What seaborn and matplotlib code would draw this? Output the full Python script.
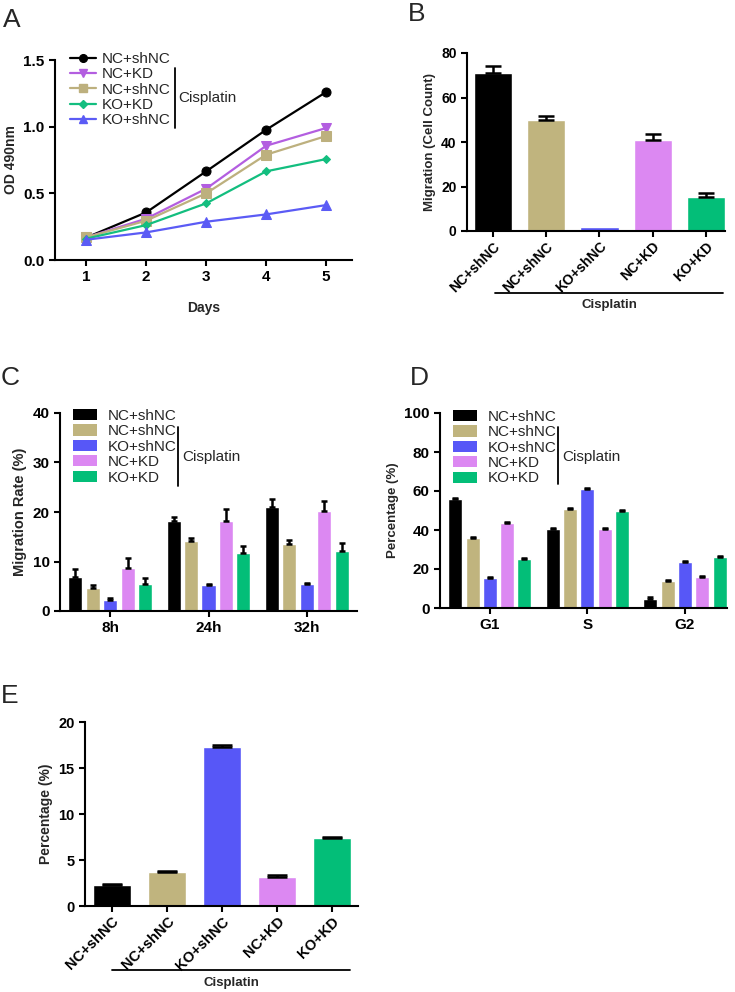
import numpy as np
import pandas as pd
import matplotlib
matplotlib.use("Agg")
import matplotlib.pyplot as plt
import seaborn as sns
from matplotlib.patches import Patch
from matplotlib.lines import Line2D

# ---- data ----
groups = ["NC+shNC", "NC+shNC", "KO+shNC", "NC+KD", "KO+KD"]
group_keys = ["ctrl", "cis_nc", "cis_ko", "cis_kd", "cis_kokd"]
bar_colors = ["#000000", "#C0B47E", "#5757F7", "#DC88F2", "#03BE78"]

# A: OD 490nm growth curves
days = [1, 2, 3, 4, 5]
a_labels = ["NC+shNC", "NC+KD", "NC+shNC", "KO+KD", "KO+shNC"]
a_nc_shnc = [0.168, 0.357, 0.665, 0.977, 1.26]
a_nc_kd = [0.17, 0.31, 0.535, 0.857, 0.99]
a_cis_nc_shnc = [0.17, 0.295, 0.50, 0.79, 0.93]
a_ko_kd = [0.16, 0.262, 0.425, 0.665, 0.757]
a_ko_shnc = [0.152, 0.207, 0.287, 0.342, 0.412]
a_colors = ["#000000", "#B35EE0", "#BDB07E", "#13BE7F", "#5B5BF5"]
a_markers = ["o", "v", "s", "D", "^"]

# B: migration cell count
b_mean = [71.2, 49.7, 2.0, 40.7, 15.5]
b_err = [2.9, 1.8, 0.0, 2.8, 1.4]

# C: migration rate
c_times = ["8h", "24h", "32h"]
c_mean = {
    "ctrl": [6.9, 18.2, 21.1],
    "cis_nc": [4.6, 14.2, 13.6],
    "cis_ko": [2.3, 5.2, 5.5],
    "cis_kd": [8.6, 18.2, 20.2],
    "cis_kokd": [5.4, 11.8, 12.2],
}
c_err = {
    "ctrl": [1.5, 0.8, 1.5],
    "cis_nc": [0.6, 0.5, 0.8],
    "cis_ko": [0.4, 0.2, 0.2],
    "cis_kd": [2.2, 2.4, 2.1],
    "cis_kokd": [1.3, 1.3, 1.6],
}

# D: cell cycle
d_phases = ["G1", "S", "G2"]
d_mean = {
    "ctrl": [55.7, 40.3, 4.8],
    "cis_nc": [35.7, 50.8, 13.9],
    "cis_ko": [15.4, 60.9, 23.7],
    "cis_kd": [43.4, 40.5, 15.8],
    "cis_kokd": [24.9, 49.7, 25.9],
}
d_err = {k: [0.6, 0.6, 0.6] for k in group_keys}

# E: percentage
e_mean = [2.3, 3.7, 17.3, 3.15, 7.4]
e_err = [0.08, 0.08, 0.25, 0.2, 0.1]

# ---- style ----
sns.set_style("ticks")
plt.rcParams["font.family"] = ["Liberation Sans", "DejaVu Sans"]
plt.rcParams["axes.linewidth"] = 1.5
plt.rcParams["xtick.major.width"] = 1.5
plt.rcParams["ytick.major.width"] = 1.5
plt.rcParams["xtick.major.size"] = 4
plt.rcParams["ytick.major.size"] = 4
plt.rcParams["xtick.color"] = "black"
plt.rcParams["ytick.color"] = "black"
plt.rcParams["axes.edgecolor"] = "black"

W, H = 735, 992
fig = plt.figure(figsize=(W / 100, H / 100), dpi=100)


def px_axes(left, top, right, bottom):
    return fig.add_axes([left / W, 1 - bottom / H, (right - left) / W, (bottom - top) / H])


def style_ax(ax, size=11):
    sns.despine(ax=ax)
    ax.tick_params(labelsize=size)
    for lab in ax.get_xticklabels() + ax.get_yticklabels():
        lab.set_fontweight("bold")


def fig_text(x, y, s, **kw):
    fig.text(x / W, 1 - y / H, s, **kw)


def fig_line(x0, y0, x1, y1, lw=1.3):
    fig.add_artist(Line2D([x0 / W, x1 / W], [1 - y0 / H, 1 - y1 / H], color="black", lw=lw))


def add_errs(ax, errs_by_container, capsize):
    for cont, errs in zip(ax.containers, errs_by_container):
        for bar, e in zip(cont, errs):
            if e <= 0:
                continue
            xc = bar.get_x() + bar.get_width() / 2
            h = bar.get_height()
            ax.errorbar(xc, h, yerr=[[0], [e]], color="black", capsize=capsize,
                        capthick=1.8, elinewidth=1.8, fmt="none", zorder=3)


# ---- A ----
axA = px_axes(55, 60, 352, 260)
a_series = [a_nc_shnc, a_nc_kd, a_cis_nc_shnc, a_ko_kd, a_ko_shnc]
ms = [6.5, 6.5, 6.5, 4.5, 6.5]
for vals, col, mk, m in zip(a_series, a_colors, a_markers, ms):
    sns.lineplot(x=days, y=vals, color=col, marker=mk, markersize=m, markeredgecolor=col,
                 linewidth=1.6, ax=axA)
axA.set_xlim(0.48, 5.43)
axA.set_ylim(0, 1.5)
axA.set_xticks(days)
axA.set_yticks([0.0, 0.5, 1.0, 1.5])
axA.set_yticklabels(["0.0", "0.5", "1.0", "1.5"])
axA.set_xlabel("Days", fontsize=10, fontweight="bold", labelpad=12)
axA.set_ylabel("OD 490nm", fontsize=10, fontweight="bold")
style_ax(axA)
a_handles = [Line2D([0], [0], color=c, marker=m, markersize=s * 0.85, lw=1.6)
             for c, m, s in zip(a_colors, a_markers, ms)]
axA.legend(a_handles, a_labels, loc="upper left", bbox_to_anchor=(70 / W, 1 - 52 / H),
           bbox_transform=fig.transFigure, frameon=False, fontsize=11,
           handlelength=1.7, handletextpad=0.35, labelspacing=0.09, borderpad=0, borderaxespad=0)
fig_line(175, 68, 175, 128)
fig_text(178, 98, "Cisplatin", fontsize=11, va="center")
fig_text(3, 27, "A", fontsize=19)

# ---- B ----
axB = px_axes(467, 53, 725, 231)
dfB = pd.DataFrame({"group": group_keys, "val": b_mean})
sns.barplot(data=dfB, x="group", y="val", hue="group", palette=bar_colors,
            width=0.72, saturation=1, legend=False, ax=axB)
add_errs(axB, [[e] for e in b_err], capsize=6)
axB.set_xlim(-0.49, 4.36)
axB.set_ylim(0, 80)
axB.set_yticks([0, 20, 40, 60, 80])
axB.set_xticks(range(5))
axB.set_xticklabels(groups, rotation=45, ha="right", rotation_mode="anchor")
axB.set_xlabel("")
axB.set_ylabel("Migration (Cell Count)", fontsize=9.5, fontweight="bold")
style_ax(axB, 10)
axB.tick_params(axis="x", pad=2)
fig_line(495, 293, 723, 293)
fig_text(609, 305, "Cisplatin", fontsize=9.5, fontweight="bold", ha="center", va="center")
fig_text(408, 21, "B", fontsize=19)


def grouped(ax, cats, means, errs, capsize):
    rows = []
    for k in group_keys:
        for c, v in zip(cats, means[k]):
            rows.append({"cat": c, "group": k, "val": v})
    df = pd.DataFrame(rows)
    sns.barplot(data=df, x="cat", y="val", hue="group", hue_order=group_keys,
                palette=bar_colors, width=0.885, gap=0.19, saturation=1,
                legend=False, ax=ax)
    add_errs(ax, [errs[k] for k in group_keys], capsize)


def bar_legend(ax, x, y, brx, bry0, bry1, cis_y):
    handles = [Patch(facecolor=c, edgecolor="none") for c in bar_colors]
    ax.legend(handles, groups, loc="upper left", bbox_to_anchor=(x / W, 1 - y / H),
              bbox_transform=fig.transFigure, frameon=False, fontsize=11,
              handlelength=1.6, handleheight=0.75, handletextpad=0.65,
              labelspacing=0.09, borderpad=0, borderaxespad=0)
    fig_line(brx, bry0, brx, bry1)
    fig_text(brx + 4, cis_y, "Cisplatin", fontsize=11, va="center")


# ---- C ----
axC = px_axes(60, 413, 357, 611)
grouped(axC, c_times, c_mean, c_err, capsize=2.5)
axC.set_xlim(-0.51, 2.51)
axC.set_ylim(0, 40)
axC.set_yticks([0, 10, 20, 30, 40])
axC.set_xlabel("")
axC.set_ylabel("Migration Rate (%)", fontsize=10.5, fontweight="bold")
style_ax(axC)
bar_legend(axC, 73, 409, 178, 427, 486, 457)
fig_text(1, 385, "C", fontsize=19)

# ---- D ----
axD = px_axes(440, 413, 727, 608)
grouped(axD, d_phases, d_mean, d_err, capsize=2.5)
axD.set_xlim(-0.51, 2.43)
axD.set_ylim(0, 100)
axD.set_yticks([0, 20, 40, 60, 80, 100])
axD.set_xlabel("")
axD.set_ylabel("Percentage (%)", fontsize=9.5, fontweight="bold")
style_ax(axD)
bar_legend(axD, 453, 410, 558, 427, 484, 457)
fig_text(410, 385, "D", fontsize=19)

# ---- E ----
axE = px_axes(85, 722, 358, 906)
dfE = pd.DataFrame({"group": group_keys, "val": e_mean})
sns.barplot(data=dfE, x="group", y="val", hue="group", palette=bar_colors,
            width=0.69, saturation=1, legend=False, ax=axE)
add_errs(axE, [[e] for e in e_err], capsize=7)
axE.set_xlim(-0.49, 4.47)
axE.set_ylim(0, 20)
axE.set_yticks([0, 5, 10, 15, 20])
axE.set_xticks(range(5))
axE.set_xticklabels(groups, rotation=45, ha="right", rotation_mode="anchor")
axE.set_xlabel("")
axE.set_ylabel("Percentage (%)", fontsize=10, fontweight="bold")
style_ax(axE, 10.5)
axE.tick_params(axis="x", pad=2)
fig_line(112, 970, 350, 970)
fig_text(231, 983, "Cisplatin", fontsize=9.5, fontweight="bold", ha="center", va="center")
fig_text(1, 703, "E", fontsize=19)

fig.savefig("out.png", dpi=100)
